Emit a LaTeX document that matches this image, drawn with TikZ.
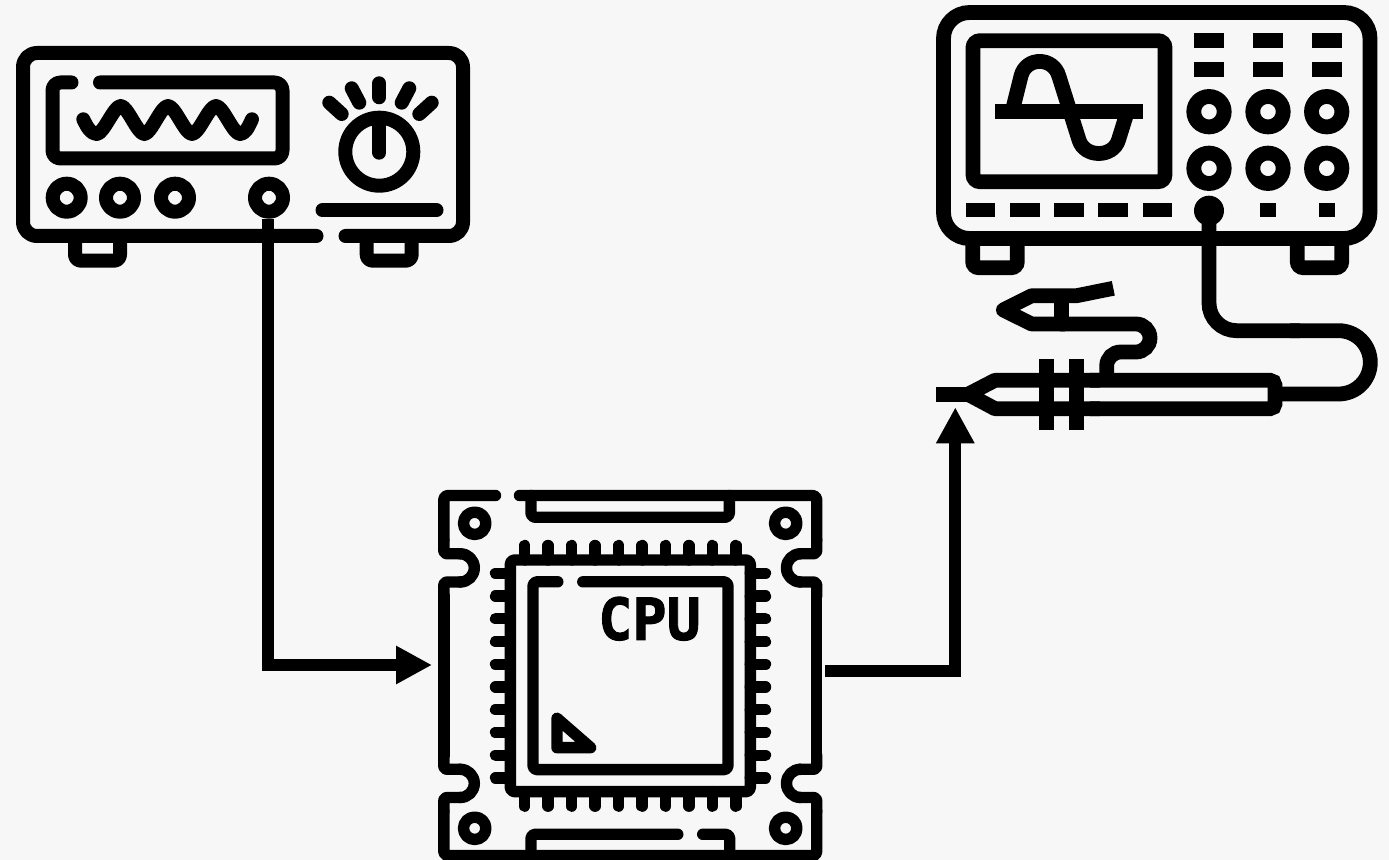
\documentclass[tikz,border=0pt]{standalone}
\usepackage{fontspec}
\newfontfamily\cpufont[FakeBold=1.6]{DejaVu Sans Mono Bold}
\usetikzlibrary{arrows.meta}
\definecolor{bgcol}{HTML}{F7F7F7}
\tikzset{
  x=0.5pt,y=-0.5pt,
  ink/.style={draw=black,line width=#1,line cap=round,line join=round},
  ink/.default=7pt,
  gen/.style={ink=7pt},
  scp/.style={draw=black,line width=7.4pt,line cap=butt,line join=miter},
  cpul/.style={ink=5.7pt},
  solidbox/.style={fill=black,draw=none},
  wire/.style={draw=black,line width=6pt,line join=miter,line cap=butt,-{Triangle[length=18pt,width=18pt]}}
}
% notch in the board edge: edge x, apex x, top y, bottom y, x where the semicircle starts
\newcommand{\boardnotch}[5]{%
  \draw[cpul,rounded corners=1.5pt] (#1,#3) ++(0,-14) -- (#1,#3) -- (#5,#3);
  \draw[cpul,rounded corners=7pt] (#5,#3) -- (#2,#3) -- (#2,#4) -- (#5,#4);
  \draw[cpul,rounded corners=1.5pt] (#5,#4) -- (#1,#4) -- ++(0,14);
}
\begin{document}
\begin{tikzpicture}
\useasboundingbox (0,0) rectangle (1389,860);
\fill[bgcol] (0,0) rectangle (1389,860);

% ---------- signal generator ----------
\draw[gen,rounded corners=7pt] (316.5,236) -- (23,236) -- (23,53) -- (463,53) -- (463,236) -- (345.5,236);
\draw[gen,rounded corners=4pt] (71.5,82.5) -- (52.5,82.5) -- (52.5,158.5) -- (282.5,158.5) -- (282.5,82.5) -- (100,82.5);
\draw[gen] (83.3,119.3) .. controls (87,127) and (91,134) .. (96.7,134)
  .. controls (103.5,134) and (114,106) .. (120.7,106)
  .. controls (127.5,106) and (137.5,134) .. (144.3,134)
  .. controls (151,134) and (161,106) .. (168,106)
  .. controls (175,106) and (185,134) .. (192,134)
  .. controls (199,134) and (209,106) .. (216,106)
  .. controls (223,106) and (233,134) .. (240,134)
  .. controls (245,134) and (248,128) .. (252,119.3);
\foreach \cx in {66.7,120,175,269}
  \draw[gen] (\cx,197.7) circle[radius=14];
\draw[gen] (322.5,210.3) -- (436.5,210.3);
\draw[gen] (379.3,151.7) circle[radius=34];
\draw[gen] (379.3,125) -- (379.3,152.7);
\draw[gen] (379.3,83.3) -- (379.3,97.3);
\draw[gen] (351.7,88.3) -- (359.3,102.7);
\draw[gen] (409.3,88.3) -- (401.7,102.7);
\draw[gen] (329.3,102.7) -- (341.7,114);
\draw[gen] (431.7,102.7) -- (419.3,114);
\draw[gen,line cap=butt,rounded corners=3pt] (75,236) -- (75,260.7) -- (120,260.7) -- (120,236);
\draw[gen,line cap=butt,rounded corners=3pt] (366.7,236) -- (366.7,260.7) -- (411.7,260.7) -- (411.7,236);

% ---------- oscilloscope ----------
\draw[scp,rounded corners=13pt] (943.5,12.5) rectangle (1370,238.5);
\draw[scp,rounded corners=3.5pt] (973,40.7) rectangle (1165,181.7);
\draw[scp] (995.3,111.3) -- (1142.7,111.3);
\draw[scp] (1013,108) -- (1021,76) .. controls (1026,56.5) and (1053.5,56.5) .. (1059,76.5)
  -- (1079,140) .. controls (1084.5,158) and (1113,158) .. (1118.5,140) -- (1126,116);
\foreach \cx in {1194,1253.3,1312} {
  \fill[solidbox] (\cx,33.3) rectangle ++(29.7,15);
  \fill[solidbox] (\cx,61.7) rectangle ++(29.7,15);
}
\foreach \cx in {1209,1268,1326.7} {
  \draw[scp] (\cx,111.7) circle[radius=15.2];
  \draw[scp] (\cx,168.3) circle[radius=15.2];
}
\foreach \cx in {965.7,1010,1054.3,1098.3,1142.7}
  \fill[solidbox] (\cx,203.3) rectangle ++(29.6,14);
\fill[solidbox] (1260,203.3) rectangle ++(15.5,14);
\fill[solidbox] (1319,203.3) rectangle ++(15.5,14);
\fill[solidbox] (1209,210.7) circle[radius=15];
\draw[scp,rounded corners=3pt] (972.7,240) -- (972.7,267.7) -- (1017.3,267.7) -- (1017.3,240);
\draw[scp,rounded corners=3pt] (1297.3,240) -- (1297.3,267.7) -- (1341.7,267.7) -- (1341.7,240);

% ---------- probe ----------
\draw[scp,rounded corners=13.8pt] (1209,210.7) -- (1209,330.7) -- (1300,330.7);
\draw[scp,rounded corners=15.8pt] (1290,330.7) -- (1370.3,330.7) -- (1370.3,394) -- (1278,394);
\draw[scp,line join=round] (936,394.3) -- (970,394.3);
\draw[scp,line join=round] (1100,380.3) -- (995,380.3) -- (968,394.3) -- (995,408.7) -- (1100,408.7);
\draw[scp,rounded corners=2.5pt] (1090,380.3) -- (1275,380.3) -- (1275,408.7) -- (1090,408.7);
\draw[scp] (1046.8,359.3) -- (1046.8,430);
\draw[scp] (1076.3,359.3) -- (1076.3,430);
\draw[scp,rounded corners=7pt] (1106.7,381) -- (1106.7,352) -- (1150,352) -- (1150,324) -- (1060,324);
\draw[scp,line join=round] (1065,324) -- (1031.7,324) -- (1003.3,310) -- (1031.7,295.7) -- (1076.7,295.7) -- (1113.3,288.3);
\draw[scp] (1061.7,295.7) -- (1061.7,324);

% ---------- CPU board ----------
\draw[cpul,rounded corners=2pt] (495.5,495.5) -- (443.8,495.5) -- (443.8,540);
\draw[cpul] (443.8,596) -- (443.8,755);
\draw[cpul,rounded corners=2pt] (443.8,811) -- (443.8,855.7) -- (816.7,855.7) -- (816.7,811);
\draw[cpul,rounded corners=2pt] (519.5,495.5) -- (816.7,495.5) -- (816.7,540);
\draw[cpul] (816.7,596) -- (816.7,755);
\boardnotch{443.8}{474.3}{553.8}{582}{460}
\boardnotch{443.8}{474.3}{769.3}{797.5}{460}
\boardnotch{816.7}{786.5}{553.8}{582}{800}
\boardnotch{816.7}{786.5}{769.3}{797.5}{800}
\draw[cpul,rounded corners=2pt] (531,495.5) -- (531,517.3) -- (729.3,517.3) -- (729.3,495.5);
\draw[cpul,rounded corners=2pt] (531,855.7) -- (531,834.3) -- (677.8,834.3);
\draw[cpul,rounded corners=2pt] (702.7,834.3) -- (729.7,834.3) -- (729.7,855.7);
\foreach \cx in {474.7,785.7} \foreach \cy in {523.3,828.3}
  \draw[cpul] (\cx,\cy) circle[radius=11.2];
\draw[cpul,rounded corners=2pt] (510.3,560) rectangle (750.3,791.7);
\foreach \i in {0,...,9} {
  \draw[cpul] ({524.7+23.47*\i},545.5) -- ({524.7+23.47*\i},560);
  \draw[cpul] ({524.7+23.47*\i},806.2) -- ({524.7+23.47*\i},791.7);
  \draw[cpul] (495.5,{573.3+22.74*\i}) -- (510.3,{573.3+22.74*\i});
  \draw[cpul] (765.5,{573.3+22.74*\i}) -- (750.3,{573.3+22.74*\i});
}
\draw[cpul,rounded corners=2pt] (557.8,581.8) -- (533,581.8) -- (533,769.7) -- (728,769.7) -- (728,581.8) -- (582.8,581.8);
\draw[cpul] (557,718.3) -- (557,747.7) -- (590.7,747.7) -- cycle;
\node[inner sep=0pt,font={\cpufont\fontsize{29pt}{29pt}\selectfont},xscale=0.98] (cpulabel) at (649.5,618.7) {CPU};

% ---------- connectors ----------
\coordinate (genport) at (268.3,219.3);
\coordinate (cpuin) at (432,665);
\coordinate (cpuout) at (825,671);
\coordinate (probein) at (955.3,407.3);
\draw[wire] (genport) |- (cpuin);
\draw[wire] (cpuout) -| (probein);
\end{tikzpicture}
\end{document}
